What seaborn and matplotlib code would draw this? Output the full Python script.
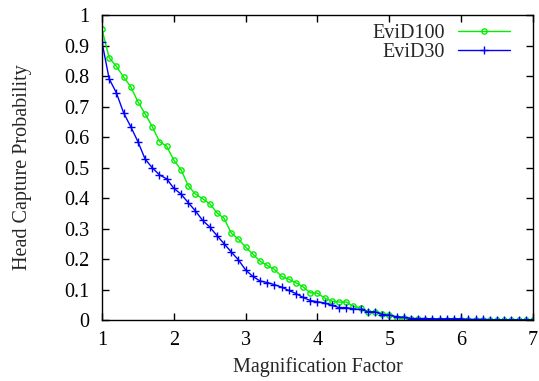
import numpy as np
import pandas as pd
import seaborn as sns
import matplotlib
matplotlib.use("Agg")
import matplotlib.pyplot as plt

sns.set_style("ticks")
plt.rcParams["font.family"] = ["Liberation Serif", "DejaVu Serif"]
plt.rcParams["xtick.direction"] = "in"
plt.rcParams["ytick.direction"] = "in"

# magnification factor grid (1.0 .. 7.0)
magnification = [1.0, 1.1, 1.2, 1.3, 1.4, 1.5, 1.6, 1.7, 1.8, 1.9,
                 2.0, 2.1, 2.2, 2.3, 2.4, 2.5, 2.6, 2.7, 2.8, 2.9,
                 3.0, 3.1, 3.2, 3.3, 3.4, 3.5, 3.6, 3.7, 3.8, 3.9,
                 4.0, 4.1, 4.2, 4.3, 4.4, 4.5, 4.6, 4.7, 4.8, 4.9,
                 5.0, 5.1, 5.2, 5.3, 5.4, 5.5, 5.6, 5.7, 5.8, 5.9,
                 6.0, 6.1, 6.2, 6.3, 6.4, 6.5, 6.6, 6.7, 6.8, 6.9,
                 7.0]

evid100 = [0.953, 0.860, 0.832, 0.797, 0.765, 0.716, 0.676, 0.634, 0.585, 0.570,
           0.524, 0.493, 0.441, 0.413, 0.398, 0.381, 0.352, 0.333, 0.285, 0.265,
           0.239, 0.216, 0.193, 0.179, 0.166, 0.143, 0.134, 0.122, 0.109, 0.089,
           0.088, 0.072, 0.062, 0.059, 0.059, 0.045, 0.040, 0.027, 0.027, 0.021,
           0.018, 0.007, 0.007, 0.002, 0.002, 0.001, 0.001, 0.001, 0.001, 0.001,
           0.001, 0.000, 0.000, 0.000, 0.000, 0.000, 0.000, 0.000, 0.000, 0.000,
           0.000]

evid30 = [0.911, 0.791, 0.745, 0.680, 0.634, 0.585, 0.528, 0.499, 0.476, 0.463,
          0.432, 0.413, 0.385, 0.358, 0.327, 0.305, 0.277, 0.250, 0.223, 0.197,
          0.164, 0.143, 0.128, 0.123, 0.116, 0.108, 0.097, 0.087, 0.074, 0.064,
          0.060, 0.056, 0.048, 0.041, 0.041, 0.036, 0.035, 0.027, 0.027, 0.018,
          0.016, 0.011, 0.009, 0.005, 0.005, 0.005, 0.004, 0.004, 0.004, 0.004,
          0.004, 0.002, 0.002, 0.002, 0.001, 0.001, 0.001, 0.001, 0.001, 0.001,
          0.001]

df = pd.DataFrame({"mag": magnification, "EviD100": evid100, "EviD30": evid30})

fig = plt.figure(figsize=(5.39, 3.81), dpi=100)
ax = fig.add_axes([0.1892, 0.160, 0.7997, 0.8006])

green = "#00f000"
blue = "#0000ff"
sns.lineplot(data=df, x="mag", y="EviD100", ax=ax, color=green, lw=1,
             marker="o", markersize=3.8, markerfacecolor="none",
             markeredgecolor=green, markeredgewidth=1, label="EviD100")
sns.lineplot(data=df, x="mag", y="EviD30", ax=ax, color=blue, lw=1,
             marker="+", markersize=6, markeredgecolor=blue,
             markeredgewidth=1, label="EviD30")

ax.set_xlim(1, 7)
ax.set_ylim(0, 1)
ax.set_xticks([1, 2, 3, 4, 5, 6, 7])
ax.set_yticks([0, 0.1, 0.2, 0.3, 0.4, 0.5, 0.6, 0.7, 0.8, 0.9, 1])
ax.set_yticklabels(["0", "0.1", "0.2", "0.3", "0.4", "0.5", "0.6", "0.7", "0.8", "0.9", "1"])
ax.tick_params(top=True, right=True, length=5, width=1, labelsize=14.5, colors="black")
ax.tick_params(axis="y", pad=9)
ax.tick_params(axis="x", pad=8)
for s in ax.spines.values():
    s.set_linewidth(1)
    s.set_color("black")

ax.set_xlabel("Magnification Factor", fontsize=14.5, labelpad=5)
ax.set_ylabel("Head Capture Probability", fontsize=14.5, labelpad=23)

ax.legend(loc="upper right", bbox_to_anchor=(0.989, 1.03), frameon=False,
          markerfirst=False, fontsize=14.5, handlelength=2.6, handletextpad=0.65,
          labelspacing=0.0, numpoints=1)

fig.savefig("out.png", dpi=100)
